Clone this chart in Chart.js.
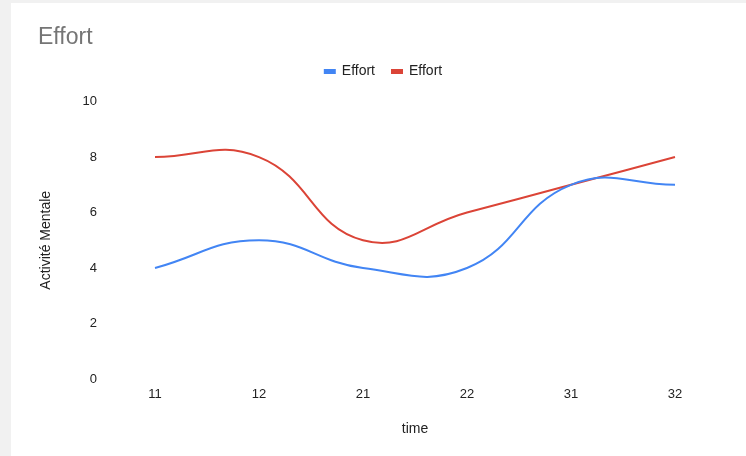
<!DOCTYPE html>
<html>
<head>
<meta charset="utf-8">
<script src="https://cdn.jsdelivr.net/npm/chart.js@4"></script>
<style>
  body { margin: 0; background: #f1f1f1; }
  #card { position: absolute; left: 11px; top: 3px; width: 735px; height: 453px; background: #fff; }
  #chart { position: absolute; left: 0; top: 0; }
</style>
</head>
<body>
<div id="card"></div>
<canvas id="chart" width="746" height="456"></canvas>
<script>
const categories = ['11', '12', '21', '22', '31', '32'];
const effortBlue = [4, 5, 4, 4, 7, 7];
const effortRed = [8, 8, 5, 6, 7, 8];
const yTicks = [0, 2, 4, 6, 8, 10];

const FONT = "'Liberation Sans', Arial, sans-serif";
Chart.defaults.font.family = FONT;
Chart.defaults.color = '#444';

// move the legend a bit, like the google chart it copies
const legendNudge = {
  id: 'legendNudge',
  afterLayout(chart) {
    const lg = chart.legend;
    if (!lg) return;
    lg.left += 27; lg.right += 27;
    lg.top -= 13; lg.bottom -= 13;
  }
};

const ctx = document.getElementById('chart').getContext('2d');

new Chart(ctx, {
  type: 'line',
  data: {
    labels: categories,
    datasets: [
      {
        label: 'Effort',
        data: effortBlue,
        borderColor: '#4285f4',
        backgroundColor: '#4285f4',
        borderWidth: 2,
        tension: 0.45,
        pointRadius: 0,
        fill: false
      },
      {
        label: 'Effort',
        data: effortRed,
        borderColor: '#db4437',
        backgroundColor: '#db4437',
        borderWidth: 2,
        tension: 0.45,
        pointRadius: 0,
        fill: false
      }
    ]
  },
  plugins: [legendNudge],
  options: {
    responsive: false,
    animation: false,
    layout: {
      padding: { left: 38, right: 71, top: 20, bottom: 18 }
    },
    plugins: {
      title: {
        display: true,
        text: 'Effort',
        align: 'start',
        color: '#757575',
        font: { size: 23, weight: 'normal' },
        padding: { top: 4, bottom: 9 }
      },
      legend: {
        display: true,
        labels: {
          boxWidth: 10,
          boxHeight: 3,
          padding: 17,
          color: '#222',
          font: { size: 14 }
        }
      },
      tooltip: { enabled: false }
    },
    scales: {
      x: {
        offset: false,
        grid: { display: false, drawTicks: false },
        border: { display: false },
        ticks: { padding: 8, color: '#222', font: { size: 13 } },
        title: { display: true, text: 'time', color: '#222', font: { size: 14 }, padding: 0 },
        afterFit: (scale) => { scale.height = 59; }
      },
      y: {
        min: 0,
        max: 10,
        afterBuildTicks: (scale) => { scale.ticks = yTicks.map(v => ({ value: v })); },
        grid: { display: false, drawTicks: false },
        border: { display: false },
        ticks: { padding: 58, color: '#222', font: { size: 13 } },
        title: { display: true, text: 'Activité Mentale', color: '#222', font: { size: 14 }, padding: 0 },
        afterFit: (scale) => { scale.width = 117; }
      }
    }
  }
});
</script>
</body>
</html>
